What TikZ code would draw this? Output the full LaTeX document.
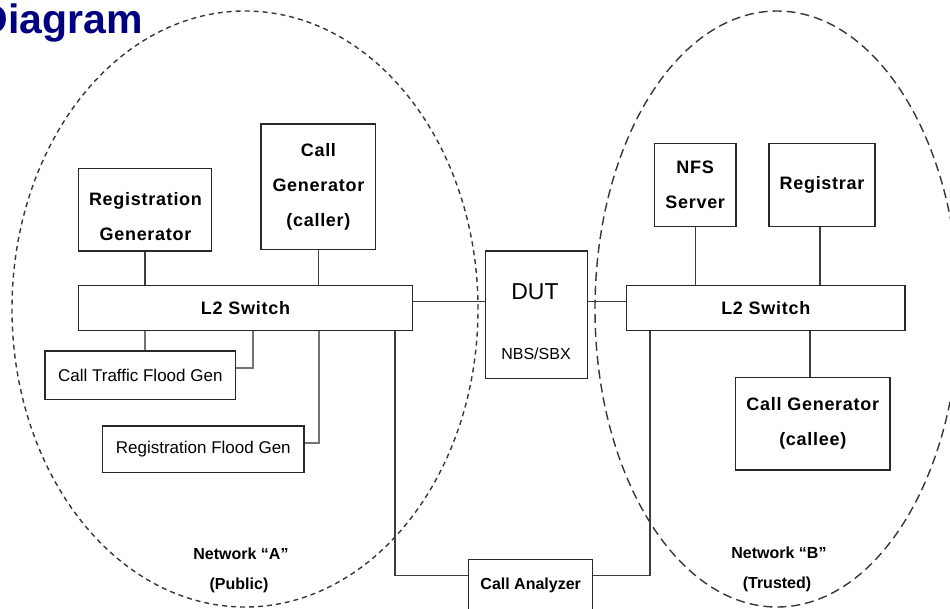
\documentclass[tikz,border=0pt]{standalone}
\usepackage{fontspec}
\setmainfont{Liberation Sans}
\newfontfamily\boxfont[LetterSpace=4]{Liberation Sans}
\definecolor{navy}{RGB}{0,0,128}
\definecolor{edgec}{RGB}{40,40,40}
\definecolor{dashc}{RGB}{55,55,55}
\begin{document}
\begin{tikzpicture}[x=1pt,y=-1pt,
  box/.style={draw=edgec, line width=1.3pt, fill=white, inner sep=0pt, align=center},
  btxt/.style={font=\boxfont\bfseries\fontsize{18}{35}\selectfont, align=center, inner sep=0pt},
  rtxt/.style={font=\fontsize{17}{20}\selectfont, inner sep=0pt},
  ntxt/.style={font=\bfseries\fontsize{16}{19}\selectfont, inner sep=0pt},
  link/.style={draw=edgec!90, line width=1.3pt},
  glink/.style={draw=black!55, line width=1.8pt},
  netA/.style={draw=dashc, line width=1.4pt, dash pattern=on 5pt off 4pt},
  netB/.style={draw=dashc, line width=1.4pt, dash pattern=on 9pt off 5pt}]
\useasboundingbox (0,0) rectangle (950,608);
\clip (0,0) rectangle (950,608);

% title (cut off at the left edge, as in the reference)
\node[anchor=base east, text=navy, font=\bfseries\fontsize{41}{44}\selectfont, inner sep=0pt] (title) at (143,33) {Diagram};

% network ellipses
\draw[netA] (245,309) ellipse [x radius=233pt, y radius=298pt];
\draw[netB] (777,309) ellipse [x radius=182pt, y radius=298pt];

% boxes
\node[box, minimum width=133.4pt, minimum height=82.7pt] (rg) at (145,209.6) {};
\node[btxt] (rgt) at (145.5,217) {Registration\\Generator};
\node[box, btxt, minimum width=114.7pt, minimum height=125.3pt] (cg) at (318.4,186.7) {Call\\Generator\\(caller)};
\node[box, btxt, minimum width=334.4pt, minimum height=45pt] (sw1) at (245.5,308.2) {L2 Switch};
\node[box, rtxt, minimum width=190.7pt, minimum height=48.3pt] (ctf) at (140.3,375.2) {Call Traffic Flood Gen};
\node[box, rtxt, minimum width=201.3pt, minimum height=46.3pt] (rfg) at (203.3,449.2) {Registration Flood Gen};
\node[box, minimum width=102.4pt, minimum height=127.7pt] (dut) at (536.5,314.9) {};
\node[font=\fontsize{23}{26}\selectfont, inner sep=0pt] (dutt) at (535,292) {DUT};
\node[font=\fontsize{16}{19}\selectfont, inner sep=0pt] (dutn) at (536,354) {NBS/SBX};
\node[box, btxt, minimum width=278.3pt, minimum height=45pt] (sw2) at (765.8,307.8) {L2 Switch};
\node[box, btxt, minimum width=81.7pt, minimum height=82.6pt] (nfs) at (695.2,185) {NFS\\Server};
\node[box, btxt, minimum width=106pt, minimum height=82.6pt] (reg) at (822,185) {Registrar};
\node[box, btxt, minimum width=154.3pt, minimum height=92.3pt] (cgc) at (812.8,423.8) {Call Generator\\(callee)};
\node[box, ntxt, minimum width=124pt, minimum height=53pt] (ca) at (530.7,585.8) {Call Analyzer};

% network labels
\node[ntxt] (na) at (241,554) {Network “A”};
\node[ntxt] (pa) at (239,585) {(Public)};
\node[ntxt] (nb) at (779,553) {Network “B”};
\node[ntxt] (pb) at (777,584) {(Trusted)};

% connectors
\draw[link] (rg.south) -- (rg.south |- sw1.north);
\draw[link] (cg.south) -- (cg.south |- sw1.north);
\draw[glink] (145,0 |- sw1.south) -- (145,0 |- ctf.north);
\draw[glink] (252.7,0 |- sw1.south) |- ([yshift=7.5pt]ctf.east);
\draw[glink] (319.3,0 |- sw1.south) |- ([yshift=6.5pt]rfg.east);
\draw[link] ([yshift=6.5pt]sw1.east) -- ([yshift=6.5pt]sw1.east -| dut.west);
\draw[link] (0,301.7 -| dut.east) -- (0,301.7 -| sw2.west);
\draw[link] (395,0 |- sw1.south) |- ([yshift=10pt]ca.west);
\draw[link] (650,0 |- sw2.south) |- ([yshift=10pt]ca.east);
\draw[link] (nfs.south) -- (nfs.south |- sw2.north);
\draw[link] (820,0 |- reg.south) -- (820,0 |- sw2.north);
\draw[link] (810,0 |- sw2.south) -- (810,0 |- cgc.north);
\end{tikzpicture}
\end{document}
